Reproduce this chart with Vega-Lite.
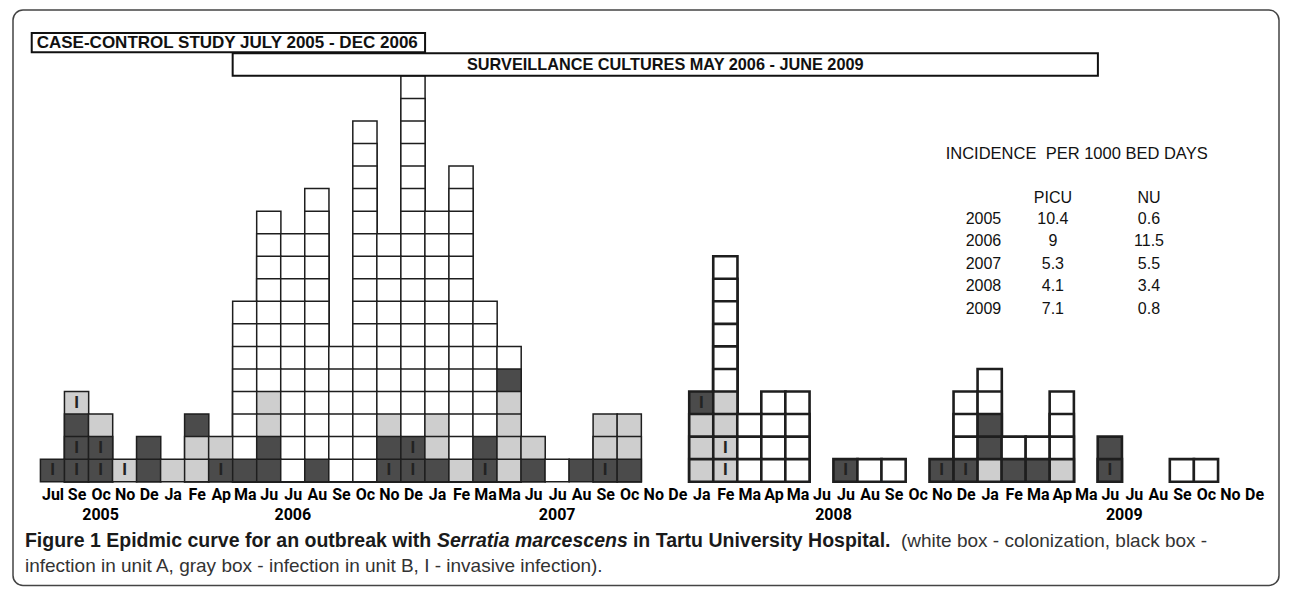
{
  "$schema": "https://vega.github.io/schema/vega-lite/v6.json",
  "width": 1276,
  "height": 471.7,
  "autosize": {"type": "none"},
  "padding": {"left": 8, "right": 8, "top": 10, "bottom": 107.3},
  "background": "white",
  "config": {
    "view": {"stroke": null},
    "text": {"font": "Liberation Sans"},
    "axisX": {"labelOverlap": false, "labelFlush": false, "labelBound": false, "ticks": false, "domain": false, "grid": false, "tickCount": 52}
  },
  "datasets": {
    "cases": [
      {"c":0,"l":1,"t":"A","i":1},
      {"c":1,"l":1,"t":"A","i":1},{"c":1,"l":2,"t":"A","i":1},{"c":1,"l":3,"t":"A","i":0},{"c":1,"l":4,"t":"B","i":1},
      {"c":2,"l":1,"t":"A","i":1},{"c":2,"l":2,"t":"A","i":1},{"c":2,"l":3,"t":"B","i":0},
      {"c":3,"l":1,"t":"B","i":1},
      {"c":4,"l":1,"t":"A","i":0},{"c":4,"l":2,"t":"A","i":0},
      {"c":5,"l":1,"t":"B","i":0},
      {"c":6,"l":1,"t":"B","i":0},{"c":6,"l":2,"t":"B","i":0},{"c":6,"l":3,"t":"A","i":0},
      {"c":7,"l":1,"t":"A","i":1},{"c":7,"l":2,"t":"B","i":0},
      {"c":8,"l":1,"t":"A","i":0},{"c":8,"l":2,"t":"W","i":0},{"c":8,"l":3,"t":"W","i":0},{"c":8,"l":4,"t":"W","i":0},{"c":8,"l":5,"t":"W","i":0},{"c":8,"l":6,"t":"W","i":0},{"c":8,"l":7,"t":"W","i":0},{"c":8,"l":8,"t":"W","i":0},
      {"c":9,"l":1,"t":"A","i":0},{"c":9,"l":2,"t":"A","i":0},{"c":9,"l":3,"t":"B","i":0},{"c":9,"l":4,"t":"B","i":0},{"c":9,"l":5,"t":"W","i":0},{"c":9,"l":6,"t":"W","i":0},{"c":9,"l":7,"t":"W","i":0},{"c":9,"l":8,"t":"W","i":0},{"c":9,"l":9,"t":"W","i":0},{"c":9,"l":10,"t":"W","i":0},{"c":9,"l":11,"t":"W","i":0},{"c":9,"l":12,"t":"W","i":0},
      {"c":10,"l":1,"t":"W","i":0},{"c":10,"l":2,"t":"W","i":0},{"c":10,"l":3,"t":"W","i":0},{"c":10,"l":4,"t":"W","i":0},{"c":10,"l":5,"t":"W","i":0},{"c":10,"l":6,"t":"W","i":0},{"c":10,"l":7,"t":"W","i":0},{"c":10,"l":8,"t":"W","i":0},{"c":10,"l":9,"t":"W","i":0},{"c":10,"l":10,"t":"W","i":0},{"c":10,"l":11,"t":"W","i":0},
      {"c":11,"l":1,"t":"A","i":0},{"c":11,"l":2,"t":"W","i":0},{"c":11,"l":3,"t":"W","i":0},{"c":11,"l":4,"t":"W","i":0},{"c":11,"l":5,"t":"W","i":0},{"c":11,"l":6,"t":"W","i":0},{"c":11,"l":7,"t":"W","i":0},{"c":11,"l":8,"t":"W","i":0},{"c":11,"l":9,"t":"W","i":0},{"c":11,"l":10,"t":"W","i":0},{"c":11,"l":11,"t":"W","i":0},{"c":11,"l":12,"t":"W","i":0},{"c":11,"l":13,"t":"W","i":0},
      {"c":12,"l":1,"t":"W","i":0},{"c":12,"l":2,"t":"W","i":0},{"c":12,"l":3,"t":"W","i":0},{"c":12,"l":4,"t":"W","i":0},{"c":12,"l":5,"t":"W","i":0},{"c":12,"l":6,"t":"W","i":0},
      {"c":13,"l":1,"t":"W","i":0},{"c":13,"l":2,"t":"W","i":0},{"c":13,"l":3,"t":"W","i":0},{"c":13,"l":4,"t":"W","i":0},{"c":13,"l":5,"t":"W","i":0},{"c":13,"l":6,"t":"W","i":0},{"c":13,"l":7,"t":"W","i":0},{"c":13,"l":8,"t":"W","i":0},{"c":13,"l":9,"t":"W","i":0},{"c":13,"l":10,"t":"W","i":0},{"c":13,"l":11,"t":"W","i":0},{"c":13,"l":12,"t":"W","i":0},{"c":13,"l":13,"t":"W","i":0},{"c":13,"l":14,"t":"W","i":0},{"c":13,"l":15,"t":"W","i":0},{"c":13,"l":16,"t":"W","i":0},
      {"c":14,"l":1,"t":"A","i":1},{"c":14,"l":2,"t":"A","i":0},{"c":14,"l":3,"t":"B","i":0},{"c":14,"l":4,"t":"W","i":0},{"c":14,"l":5,"t":"W","i":0},{"c":14,"l":6,"t":"W","i":0},{"c":14,"l":7,"t":"W","i":0},{"c":14,"l":8,"t":"W","i":0},{"c":14,"l":9,"t":"W","i":0},{"c":14,"l":10,"t":"W","i":0},{"c":14,"l":11,"t":"W","i":0},
      {"c":15,"l":1,"t":"A","i":1},{"c":15,"l":2,"t":"A","i":1},{"c":15,"l":3,"t":"W","i":0},{"c":15,"l":4,"t":"W","i":0},{"c":15,"l":5,"t":"W","i":0},{"c":15,"l":6,"t":"W","i":0},{"c":15,"l":7,"t":"W","i":0},{"c":15,"l":8,"t":"W","i":0},{"c":15,"l":9,"t":"W","i":0},{"c":15,"l":10,"t":"W","i":0},{"c":15,"l":11,"t":"W","i":0},{"c":15,"l":12,"t":"W","i":0},{"c":15,"l":13,"t":"W","i":0},{"c":15,"l":14,"t":"W","i":0},{"c":15,"l":15,"t":"W","i":0},{"c":15,"l":16,"t":"W","i":0},{"c":15,"l":17,"t":"W","i":0},{"c":15,"l":18,"t":"W","i":0},
      {"c":16,"l":1,"t":"A","i":0},{"c":16,"l":2,"t":"B","i":0},{"c":16,"l":3,"t":"B","i":0},{"c":16,"l":4,"t":"W","i":0},{"c":16,"l":5,"t":"W","i":0},{"c":16,"l":6,"t":"W","i":0},{"c":16,"l":7,"t":"W","i":0},{"c":16,"l":8,"t":"W","i":0},{"c":16,"l":9,"t":"W","i":0},{"c":16,"l":10,"t":"W","i":0},{"c":16,"l":11,"t":"W","i":0},{"c":16,"l":12,"t":"W","i":0},
      {"c":17,"l":1,"t":"B","i":0},{"c":17,"l":2,"t":"W","i":0},{"c":17,"l":3,"t":"W","i":0},{"c":17,"l":4,"t":"W","i":0},{"c":17,"l":5,"t":"W","i":0},{"c":17,"l":6,"t":"W","i":0},{"c":17,"l":7,"t":"W","i":0},{"c":17,"l":8,"t":"W","i":0},{"c":17,"l":9,"t":"W","i":0},{"c":17,"l":10,"t":"W","i":0},{"c":17,"l":11,"t":"W","i":0},{"c":17,"l":12,"t":"W","i":0},{"c":17,"l":13,"t":"W","i":0},{"c":17,"l":14,"t":"W","i":0},
      {"c":18,"l":1,"t":"A","i":1},{"c":18,"l":2,"t":"A","i":0},{"c":18,"l":3,"t":"W","i":0},{"c":18,"l":4,"t":"W","i":0},{"c":18,"l":5,"t":"W","i":0},{"c":18,"l":6,"t":"W","i":0},{"c":18,"l":7,"t":"W","i":0},{"c":18,"l":8,"t":"W","i":0},
      {"c":19,"l":1,"t":"B","i":0},{"c":19,"l":2,"t":"B","i":0},{"c":19,"l":3,"t":"B","i":0},{"c":19,"l":4,"t":"B","i":0},{"c":19,"l":5,"t":"A","i":0},{"c":19,"l":6,"t":"W","i":0},
      {"c":20,"l":1,"t":"A","i":0},{"c":20,"l":2,"t":"B","i":0},
      {"c":21,"l":1,"t":"W","i":0},
      {"c":22,"l":1,"t":"A","i":0},
      {"c":23,"l":1,"t":"A","i":1},{"c":23,"l":2,"t":"B","i":0},{"c":23,"l":3,"t":"B","i":0},
      {"c":24,"l":1,"t":"A","i":0},{"c":24,"l":2,"t":"B","i":0},{"c":24,"l":3,"t":"B","i":0},
      {"c":27,"l":1,"t":"B","i":0},{"c":27,"l":2,"t":"B","i":0},{"c":27,"l":3,"t":"B","i":0},{"c":27,"l":4,"t":"A","i":1},
      {"c":28,"l":1,"t":"B","i":1},{"c":28,"l":2,"t":"B","i":1},{"c":28,"l":3,"t":"B","i":0},{"c":28,"l":4,"t":"B","i":0},{"c":28,"l":5,"t":"W","i":0},{"c":28,"l":6,"t":"W","i":0},{"c":28,"l":7,"t":"W","i":0},{"c":28,"l":8,"t":"W","i":0},{"c":28,"l":9,"t":"W","i":0},{"c":28,"l":10,"t":"W","i":0},
      {"c":29,"l":1,"t":"W","i":0},{"c":29,"l":2,"t":"W","i":0},{"c":29,"l":3,"t":"W","i":0},
      {"c":30,"l":1,"t":"W","i":0},{"c":30,"l":2,"t":"W","i":0},{"c":30,"l":3,"t":"W","i":0},{"c":30,"l":4,"t":"W","i":0},
      {"c":31,"l":1,"t":"W","i":0},{"c":31,"l":2,"t":"W","i":0},{"c":31,"l":3,"t":"W","i":0},{"c":31,"l":4,"t":"W","i":0},
      {"c":33,"l":1,"t":"A","i":1},
      {"c":34,"l":1,"t":"W","i":0},
      {"c":35,"l":1,"t":"W","i":0},
      {"c":37,"l":1,"t":"A","i":1},
      {"c":38,"l":1,"t":"A","i":1},{"c":38,"l":2,"t":"W","i":0},{"c":38,"l":3,"t":"W","i":0},{"c":38,"l":4,"t":"W","i":0},
      {"c":39,"l":1,"t":"B","i":0},{"c":39,"l":2,"t":"A","i":0},{"c":39,"l":3,"t":"A","i":0},{"c":39,"l":4,"t":"W","i":0},{"c":39,"l":5,"t":"W","i":0},
      {"c":40,"l":1,"t":"A","i":0},{"c":40,"l":2,"t":"W","i":0},
      {"c":41,"l":1,"t":"A","i":0},{"c":41,"l":2,"t":"W","i":0},
      {"c":42,"l":1,"t":"B","i":0},{"c":42,"l":2,"t":"W","i":0},{"c":42,"l":3,"t":"W","i":0},{"c":42,"l":4,"t":"W","i":0},
      {"c":44,"l":1,"t":"A","i":1},{"c":44,"l":2,"t":"A","i":0},
      {"c":47,"l":1,"t":"W","i":0},
      {"c":48,"l":1,"t":"W","i":0}
    ],
    "years": [
      {"yr":"2005","c":2},{"yr":"2006","c":10},{"yr":"2007","c":21},{"yr":"2008","c":32.5},{"yr":"2009","c":44.6}
    ],
    "inc": [
      {"yr":2005,"picu":10.4,"nu":0.6},
      {"yr":2006,"picu":9,"nu":11.5},
      {"yr":2007,"picu":5.3,"nu":5.5},
      {"yr":2008,"picu":4.1,"nu":3.4},
      {"yr":2009,"picu":7.1,"nu":0.8}
    ]
  },
  "resolve": {"scale": {"y": "independent"}},
  "layer": [
    {
      "layer": [
        {
          "data": {"values": [{"f": "frame"}]},
          "mark": {"type": "rect", "fillOpacity": 0, "stroke": "#444444", "strokeWidth": 1.5, "cornerRadius": 10},
          "encoding": {
            "x": {
              "datum": -1.645,
              "scale": {"domain": [-1.645, 51.04], "nice": false, "zero": false},
              "axis": {
                "values": [0,1,2,3,4,5,6,7,8,9,10,11,12,13,14,15,16,17,18,19,20,21,22,23,24,25,26,27,28,29,30,31,32,33,34,35,36,37,38,39,40,41,42,43,44,45,46,47,48,49,50],
                "tickCount": 52,
                "labelExpr": "['Jul','Se','Oc','No','De','Ja','Fe','Ap','Ma','Ju','Ju','Au','Se','Oc','No','De','Ja','Fe','Ma','Ma','Ju','Ju','Au','Se','Oc','No','De','Ja','Fe','Ma','Ap','Ma','Ju','Ju','Au','Se','Oc','No','De','Ja','Fe','Ma','Ap','Ma','Ju','Ju','Au','Se','Oc','No','De'][datum.value]",
                "ticks": false, "domain": false, "grid": false, "title": null,
                "labelFont": "Roboto", "labelFontWeight": "bold", "labelFontSize": 16,
                "labelColor": "#000000", "labelPadding": 5, "labelOverlap": false, "labelFlush": false, "labelBound": false
              }
            },
            "x2": {"datum": 51.04},
            "y": {"datum": 20.92, "scale": {"domain": [0, 20.92], "nice": false, "zero": false}, "axis": null},
            "y2": {"datum": -4.6}
          }
        },
        {
          "data": {"name": "cases"},
          "mark": {"type": "bar", "size": 24.22, "stroke": "#1e1e1e"},
          "encoding": {
            "x": {"field": "c", "type": "quantitative"},
            "y": {"field": "l", "type": "quantitative", "stack": null, "axis": null},
            "color": {"field": "t", "type": "nominal", "scale": {"domain": ["A", "B", "W"], "range": ["#4b4b4b", "#cecece", "#ffffff"]}, "legend": null},
            "order": {"field": "l", "sort": "descending"},
            "strokeWidth": {"condition": {"test": "datum.c >= 27", "value": 2.6}, "value": 1.5}
          }
        },
        {
          "data": {"name": "cases"},
          "transform": [{"filter": "datum.i == 1"}],
          "mark": {"type": "text", "text": "I", "font": "Liberation Sans", "fontWeight": "bold", "fontSize": 17, "baseline": "middle", "dy": 11.3, "color": "#222222"},
          "encoding": {
            "x": {"field": "c", "type": "quantitative"},
            "y": {"field": "l", "type": "quantitative", "axis": null}
          }
        },
        {
          "data": {"values": [{"label": "CASE-CONTROL STUDY JULY 2005 - DEC 2006", "from": 0, "to": 15}]},
          "layer": [
            {
              "mark": {"type": "rect", "fill": "#ffffff", "stroke": "#111111", "strokeWidth": 2, "xOffset": -20.8, "x2Offset": 12.1},
              "encoding": {
                "x": {"field": "from", "type": "quantitative"},
                "x2": {"field": "to"},
                "y": {"datum": 19.05, "axis": null},
                "y2": {"datum": 19.9}
              }
            },
            {
              "mark": {"type": "text", "align": "left", "baseline": "middle", "dx": -15.8, "font": "Liberation Sans", "fontWeight": "bold", "fontSize": 17, "color": "#111111"},
              "encoding": {
                "x": {"field": "from", "type": "quantitative"},
                "y": {"datum": 19.475, "axis": null},
                "text": {"field": "label"}
              }
            }
          ]
        },
        {
          "data": {"values": [{"label": "SURVEILLANCE CULTURES MAY 2006 - JUNE 2009", "from": 8, "to": 43}]},
          "layer": [
            {
              "mark": {"type": "rect", "fill": "#ffffff", "stroke": "#111111", "strokeWidth": 2, "xOffset": -12.1, "x2Offset": 12.1},
              "encoding": {
                "x": {"field": "from", "type": "quantitative"},
                "x2": {"field": "to"},
                "y": {"datum": 18, "axis": null},
                "y2": {"datum": 19}
              }
            },
            {
              "mark": {"type": "text", "align": "center", "baseline": "middle", "font": "Liberation Sans", "fontWeight": "bold", "fontSize": 16.3, "color": "#111111"},
              "encoding": {
                "x": {"datum": 25.5},
                "y": {"datum": 18.5, "axis": null},
                "text": {"field": "label"}
              }
            }
          ]
        },
        {
          "data": {"name": "years"},
          "mark": {"type": "text", "align": "center", "baseline": "middle", "font": "Roboto", "fontWeight": "bold", "fontSize": 16, "color": "#000000"},
          "encoding": {
            "x": {"field": "c", "type": "quantitative"},
            "y": {"datum": -1.47, "axis": null},
            "text": {"field": "yr"}
          }
        },
        {
          "data": {"values": [{"s": "Figure 1 Epidmic curve for an outbreak with "}]},
          "mark": {"type": "text", "align": "left", "baseline": "middle", "font": "Liberation Sans", "fontWeight": "bold", "fontSize": 19.5, "color": "#1a1a1a"},
          "encoding": {"x": {"datum": -1.148}, "y": {"datum": -2.63, "axis": null}, "text": {"field": "s"}}
        },
        {
          "data": {"values": [{"s": "Serratia marcescens"}]},
          "mark": {"type": "text", "align": "left", "baseline": "middle", "dx": 412, "font": "Liberation Sans", "fontWeight": "bold", "fontStyle": "italic", "fontSize": 19.5, "color": "#1a1a1a"},
          "encoding": {"x": {"datum": -1.148}, "y": {"datum": -2.63, "axis": null}, "text": {"field": "s"}}
        },
        {
          "data": {"values": [{"s": " in Tartu University Hospital."}]},
          "mark": {"type": "text", "align": "left", "baseline": "middle", "dx": 608, "font": "Liberation Sans", "fontWeight": "bold", "fontSize": 19.5, "color": "#1a1a1a"},
          "encoding": {"x": {"datum": -1.148}, "y": {"datum": -2.63, "axis": null}, "text": {"field": "s"}}
        },
        {
          "data": {"values": [{"s": "(white box - colonization, black box -"}]},
          "mark": {"type": "text", "align": "left", "baseline": "middle", "dx": 876, "font": "Liberation Sans", "fontSize": 19, "color": "#333333"},
          "encoding": {"x": {"datum": -1.148}, "y": {"datum": -2.63, "axis": null}, "text": {"field": "s"}}
        },
        {
          "data": {"values": [{"s": "infection in unit A, gray box - infection in unit B, I - invasive infection)."}]},
          "mark": {"type": "text", "align": "left", "baseline": "middle", "font": "Liberation Sans", "fontSize": 19, "color": "#333333"},
          "encoding": {"x": {"datum": -1.148}, "y": {"datum": -3.74, "axis": null}, "text": {"field": "s"}}
        }
      ]
    },
    {
      "layer": [
        {
          "data": {"name": "inc"},
          "mark": {"type": "text", "align": "center", "baseline": "middle", "font": "Liberation Sans", "fontSize": 16, "color": "#111111"},
          "encoding": {
            "x": {"datum": 38.74},
            "y": {"field": "yr", "type": "quantitative", "scale": {"domain": [1995.711, 2016.676], "reverse": true, "nice": false, "zero": false}, "axis": null},
            "text": {"field": "yr", "type": "nominal"}
          }
        },
        {
          "data": {"name": "inc"},
          "mark": {"type": "text", "align": "center", "baseline": "middle", "font": "Liberation Sans", "fontSize": 16, "color": "#111111"},
          "encoding": {
            "x": {"datum": 41.63},
            "y": {"field": "yr", "type": "quantitative", "axis": null},
            "text": {"field": "picu", "type": "nominal"}
          }
        },
        {
          "data": {"name": "inc"},
          "mark": {"type": "text", "align": "center", "baseline": "middle", "font": "Liberation Sans", "fontSize": 16, "color": "#111111"},
          "encoding": {
            "x": {"datum": 45.63},
            "y": {"field": "yr", "type": "quantitative", "axis": null},
            "text": {"field": "nu", "type": "nominal"}
          }
        },
        {
          "data": {"values": [{"h": "PICU"}]},
          "mark": {"type": "text", "align": "center", "baseline": "middle", "font": "Liberation Sans", "fontSize": 16, "color": "#111111"},
          "encoding": {"x": {"datum": 41.63}, "y": {"datum": 2004.05, "axis": null}, "text": {"field": "h"}}
        },
        {
          "data": {"values": [{"h": "NU"}]},
          "mark": {"type": "text", "align": "center", "baseline": "middle", "font": "Liberation Sans", "fontSize": 16, "color": "#111111"},
          "encoding": {"x": {"datum": 45.63}, "y": {"datum": 2004.05, "axis": null}, "text": {"field": "h"}}
        },
        {
          "data": {"values": [{"h": "INCIDENCE\u00a0 PER 1000 BED DAYS"}]},
          "mark": {"type": "text", "align": "center", "baseline": "middle", "font": "Liberation Sans", "fontSize": 16.5, "color": "#111111"},
          "encoding": {"x": {"datum": 42.62}, "y": {"datum": 2002.11, "axis": null}, "text": {"field": "h"}}
        }
      ]
    }
  ]
}
